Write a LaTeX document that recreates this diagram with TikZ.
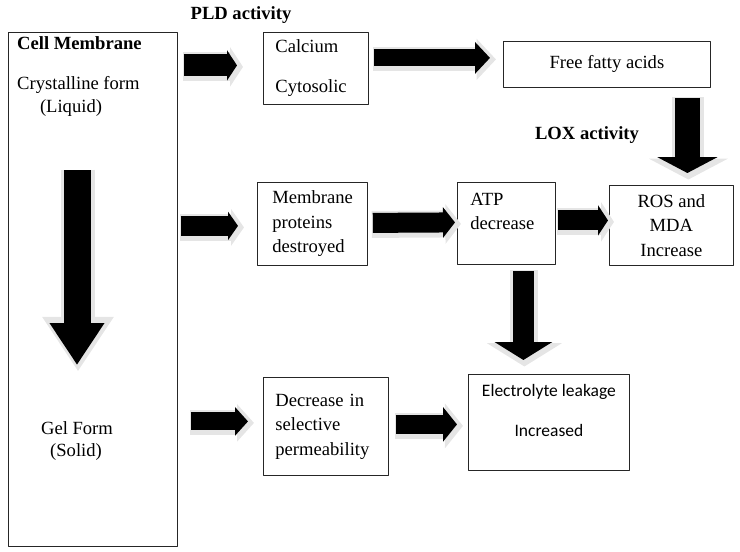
\documentclass[tikz,border=0pt]{standalone}
\usepackage{fontspec}
\setmainfont{Liberation Serif}
\newfontfamily\calibrifont{Carlito}
\usepackage{tikz}
\usetikzlibrary{arrows.meta}
\usetikzlibrary{calc}

\begin{document}
\begin{tikzpicture}[line cap=round,line join=round,x=1pt,y=-1pt,
  every node/.style={font=\fontsize{18.6}{24.5}\selectfont},
  box/.style={draw=black!85,line width=0.8pt,anchor=north west,inner ysep=2pt},
  lbox/.style={box,align=left},
  cbox/.style={box,align=center},
  txt/.style={inner sep=0pt},
  fatarrow/.style n args={3}{draw=black,line cap=butt,line join=miter,line width=#1,-{Triangle[length=#2,width=#3]},
    preaction={draw=black!10,line cap=butt,line join=miter,line width=#1+7pt,-{Triangle[length=#2,width=#3,scale=1.3]},
      shorten >=-5pt,shorten <=-2pt,transform canvas={shift={(1pt,-1.5pt)}}}}]
\useasboundingbox (0,0) rectangle (740,552);
%\draw[help lines] (0,0) grid[step=50] (740,552);
\node[box,minimum width=169pt,minimum height=514pt] (cm) at (8,32) {};
\node[txt,anchor=west,font=\fontsize{18.6}{24.5}\selectfont\bfseries] (title) at (17,43) {Cell Membrane};
\node[txt,anchor=west] (cryst) at (17,85) {Crystalline form};
\node[txt] (liquid) at (71,108) {(Liquid)};
\node[txt] (gel) at (77,428) {Gel Form};
\node[txt] (solid) at (76,452) {(Solid)};
\node[txt,font=\fontsize{18.6}{24.5}\selectfont\bfseries] (pld) at (241,15) {PLD activity};
\node[txt,font=\fontsize{18.6}{24.5}\selectfont\bfseries] (lox) at (587,135) {LOX activity};
\node[lbox,minimum width=105pt,minimum height=72pt,inner xsep=12pt,text width=81pt] (calc) at (263,32) {Calcium\\[15.5pt]Cytosolic};
\node[cbox,minimum width=207pt,minimum height=46pt] (ffa) at (503,41) {Free fatty acids};
\node[lbox,minimum width=110pt,minimum height=83pt,inner xsep=15pt,text width=80pt] (memb) at (257,182) {Membrane\\proteins\\destroyed};
\node[lbox,minimum width=98pt,minimum height=82pt,inner xsep=13pt,text width=72pt] (atp) at (457,182) {ATP\\decrease\\\mbox{}};
\node[cbox,minimum width=124pt,minimum height=80pt] (ros) at (609,185) {ROS and\\MDA\\Increase};
\node[lbox,minimum width=125pt,minimum height=98pt,inner xsep=12pt,text width=101pt] (decr) at (263,377) {Decrease in\\selective\\permeability};
\node[cbox,minimum width=161pt,minimum height=96pt,font=\calibrifont\fontsize{17.5}{22}\selectfont] (el) at (468,374) {Electrolyte leakage\\[18pt]Increased\\[2pt]\mbox{}};
%block arrows
\draw[fatarrow={22pt}{10pt}{30pt}] ($(cm.east |- calc.west)+(6,-3)$) -- ($(calc.west)+(-26,-3)$);
\draw[fatarrow={17pt}{15pt}{31pt}] ($(calc.east)+(5,-10.5)$) -- ($(ffa.west)+(-13,-6.5)$);
\draw[fatarrow={25pt}{16pt}{60pt}] ($(ffa.south)+(80.5,10)$) -- ($(ros.north)+(16,-12)$);
\draw[fatarrow={20pt}{10pt}{28pt}] ($(cm.east |- memb.west)+(3,2)$) -- ($(memb.west)+(-19,2)$);
\draw[fatarrow={20pt}{12pt}{30pt}] ($(memb.east)+(5,-1)$) -- ($(atp.west)+(-2,-1)$);
\draw[fatarrow={20pt}{10pt}{30pt}] ($(atp.east)+(2,-3)$) -- ($(ros.west)+(-1,-5)$);
\draw[fatarrow={21pt}{18pt}{57pt}] ($(atp.south)+(17,6)$) -- ($(el.north)+(-25.5,-14)$);
\draw[fatarrow={27pt}{42pt}{52pt}] ($(gel.center |- liquid.center)+(0,62)$) -- ($(gel.center)+(0,-63)$);
\draw[fatarrow={18pt}{13pt}{28pt}] ($(cm.east |- decr.west)+(13,-5)$) -- ($(decr.west)+(-15,-5)$);
\draw[fatarrow={19pt}{14pt}{34pt}] ($(decr.east)+(7,-2)$) -- ($(el.west |- decr.east)+(-11,-2)$);
\end{tikzpicture}
\end{document}
